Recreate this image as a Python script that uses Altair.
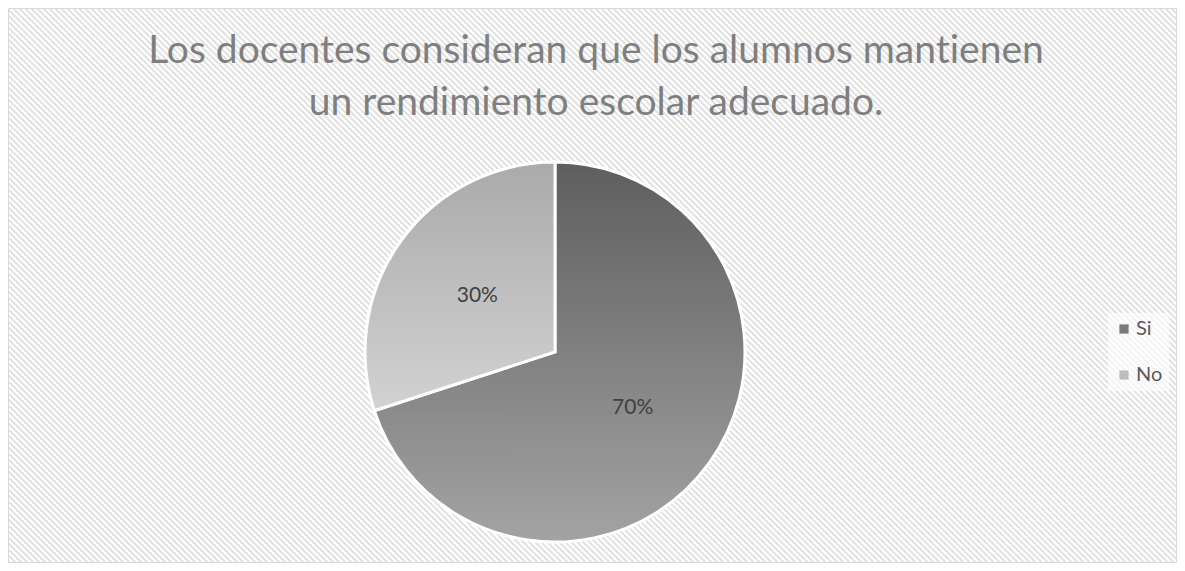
import altair as alt
import pandas as pd

# ---- data ----
categories = ["Si", "No"]
values = [70, 30]
order_idx = [0, 1]
# U+200C (zero-width non-joiner) only prevents the Lato "ti" ligature
title_lines = ["Los docentes consideran que los alumnos mant\u200cienen",
               "un rendimiento escolar adecuado."]

df = pd.DataFrame({"cat": categories, "val": values, "idx": order_idx})
df["label"] = [f"{v}%" for v in values]

W, H = 1169, 555
FONT = "Lato"

# ---- striped background via a repeating linear gradient (45 deg stripes) ----
r = H / W
d = (1.0, -r)
dd = 1 + r * r
s = (1 + r) / dd
x1, y1 = 0.0, 1.0
x2, y2 = x1 + s * d[0], y1 + s * d[1]
period_px = 6.0
n = int(round((W + H) / period_px))
stripe = "#e3e3e3"
white = "#ffffff"
stops = []
for k in range(n):
    stops += [
        {"offset": round(k / n, 6), "color": stripe},
        {"offset": round((k + 0.35) / n, 6), "color": stripe},
        {"offset": round((k + 0.5) / n, 6), "color": white},
        {"offset": round((k + 0.85) / n, 6), "color": white},
    ]
stops.append({"offset": 1, "color": stripe})
bg_grad = {"gradient": "linear", "x1": x1, "y1": y1, "x2": x2, "y2": y2, "stops": stops}

one = alt.Data(values=[{"a": 1}])

background = alt.Chart(one).mark_rect(
    fill=bg_grad, stroke="#d9d9d9", strokeWidth=1
).encode(
    x=alt.value(0.5), x2=alt.value({"expr": "width - 0.5"}),
    y=alt.value(0.5), y2=alt.value({"expr": "height - 0.5"}),
)

title = alt.Chart(one).mark_text(
    text=title_lines, font=FONT, fontSize=39, color="#7f7f7f",
    lineHeight=52, align="center", baseline="alphabetic",
).encode(x=alt.value(588), y=alt.value(55))

CX, CY, R = 547, 344, 190

grad_si = {"gradient": "linear", "x1": 0, "y1": 0, "x2": 0, "y2": 1,
           "stops": [{"offset": 0, "color": "#5e5e5e"}, {"offset": 1, "color": "#a3a3a3"}]}
grad_no = {"gradient": "linear", "x1": 0, "y1": 0, "x2": 0, "y2": 1,
           "stops": [{"offset": 0, "color": "#aaaaaa"}, {"offset": 1, "color": "#d2d2d2"}]}

base = alt.Chart(df)

pie_legend = base.mark_arc(radius=R).encode(
    theta=alt.Theta("val:Q", stack=True),
    order=alt.Order("idx:Q"),
    color=alt.Color(
        "cat:N",
        scale=alt.Scale(domain=categories, range=["#7b7b7b", "#bdbdbd"]),
        legend=alt.Legend(
            title=None, orient="none", legendX=1100, legendY=305,
            symbolType="square", symbolSize=85, symbolStrokeWidth=0,
            labelFont=FONT, labelFontSize=20, labelColor="#595959",
            labelOffset=2, rowPadding=26, padding=6,
            fillColor="rgba(255,255,255,0.6)",
        ),
    ),
    x=alt.value(CX), y=alt.value(CY),
)

pie = base.mark_arc(radius=R, stroke="white", strokeWidth=3).encode(
    theta=alt.Theta("val:Q", stack=True),
    order=alt.Order("idx:Q"),
    detail="cat:N",
    fill=alt.condition("datum.cat === 'Si'", alt.value(grad_si), alt.value(grad_no)),
    x=alt.value(CX), y=alt.value(CY),
)

labels = base.mark_text(radius=96, font=FONT, fontSize=21, color="#404040").encode(
    theta=alt.Theta("val:Q", stack=True),
    order=alt.Order("idx:Q"),
    detail="cat:N",
    text="label:N",
    x=alt.value(CX), y=alt.value(CY),
)

chart = alt.layer(background, title, pie_legend, pie, labels).properties(
    width=W, height=H, autosize="none", padding=0,
).configure_view(stroke=None)

chart.save("out.html", embed_options={"renderer": "svg", "actions": False})
